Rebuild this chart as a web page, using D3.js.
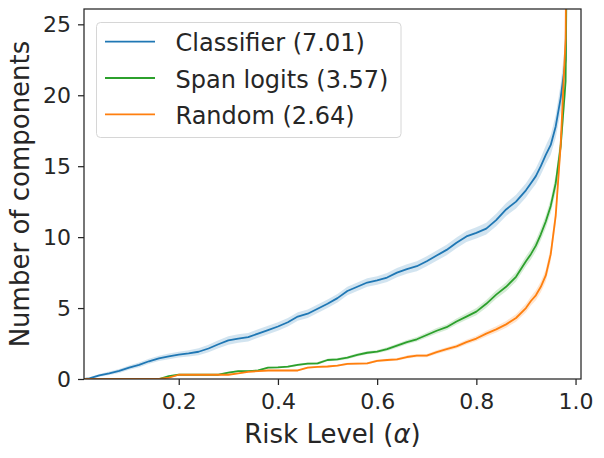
<!DOCTYPE html>
<html>
<head>
<meta charset="utf-8">
<script src="https://cdn.jsdelivr.net/npm/d3@7"></script>
<style>
  body { margin: 0; background: #fff; }
  svg text { font-family: "DejaVu Sans", sans-serif; fill: #262626; }
</style>
</head>
<body>
<div class="svgContainer"></div>
<script>
// risk levels (x) and mean number of components per method
const ALPHA = [0.01, 0.02, 0.04, 0.06, 0.08, 0.10, 0.12, 0.14, 0.16, 0.18,
    0.20, 0.22, 0.24, 0.26, 0.28, 0.30, 0.32, 0.34, 0.36, 0.38,
    0.40, 0.42, 0.44, 0.46, 0.48, 0.50, 0.52, 0.54, 0.56, 0.58,
    0.60, 0.62, 0.64, 0.66, 0.68, 0.70, 0.72, 0.74, 0.76, 0.78,
    0.80, 0.82, 0.84, 0.86, 0.88, 0.90, 0.91, 0.92, 0.93, 0.94,
    0.95, 0.96, 0.97, 0.98, 0.99];

const CLASSIFIER = [0, 0.05, 0.25, 0.4, 0.57, 0.8, 1.0, 1.25, 1.45, 1.6,
    1.72, 1.8, 1.92, 2.15, 2.45, 2.72, 2.85, 2.95, 3.2, 3.45,
    3.7, 4.0, 4.4, 4.6, 4.95, 5.3, 5.7, 6.2, 6.5, 6.8,
    6.95, 7.15, 7.5, 7.75, 7.95, 8.3, 8.7, 9.1, 9.6, 10.05,
    10.3, 10.6, 11.2, 11.95, 12.5, 13.3, 13.8, 14.3, 15.0, 15.8,
    16.5, 17.8, 19.8, 22.5, 60];
const SPAN_LOGITS = [0, 0, 0, 0, 0, 0, 0, 0, 0, 0.2,
    0.3, 0.3, 0.3, 0.3, 0.3, 0.45, 0.56, 0.56, 0.6, 0.8,
    0.82, 0.87, 1.0, 1.08, 1.1, 1.34, 1.38, 1.5, 1.7, 1.85,
    1.93, 2.1, 2.35, 2.6, 2.8, 3.1, 3.4, 3.65, 4.05, 4.4,
    4.75, 5.3, 5.95, 6.5, 7.2, 8.3, 8.8, 9.4, 10.2, 11.1,
    12.2, 13.8, 16.4, 21, 60];
const RANDOM = [0, 0, 0, 0, 0, 0, 0, 0, 0, 0.1,
    0.3, 0.3, 0.3, 0.3, 0.3, 0.3, 0.4, 0.5, 0.56, 0.6,
    0.6, 0.6, 0.6, 0.8, 0.85, 0.88, 0.95, 1.06, 1.08, 1.1,
    1.28, 1.34, 1.38, 1.55, 1.65, 1.65, 1.9, 2.1, 2.3, 2.6,
    2.85, 3.2, 3.5, 3.85, 4.3, 5.0, 5.5, 5.9, 6.5, 7.3,
    8.8, 11.5, 16.5, 24, 70];

// half-width of the shaded confidence band
const CLASSIFIER_CI = [0.05, 0.08, 0.1, 0.12, 0.14, 0.15, 0.17, 0.18, 0.19, 0.2,
    0.2, 0.22, 0.24, 0.26, 0.28, 0.3, 0.3, 0.3, 0.3, 0.3,
    0.3, 0.3, 0.3, 0.3, 0.3, 0.3, 0.3, 0.3, 0.3, 0.3,
    0.3, 0.32, 0.33, 0.34, 0.35, 0.35, 0.36, 0.37, 0.38, 0.39,
    0.4, 0.42, 0.44, 0.46, 0.48, 0.5, 0.52, 0.55, 0.6, 0.65,
    0.7, 0.8, 1.0, 1.5, 3];
const SPAN_LOGITS_CI = [0, 0, 0, 0, 0, 0, 0, 0, 0, 0.05,
    0.06, 0.06, 0.06, 0.06, 0.06, 0.06, 0.06, 0.06, 0.06, 0.06,
    0.07, 0.07, 0.08, 0.08, 0.09, 0.09, 0.1, 0.1, 0.11, 0.11,
    0.12, 0.13, 0.14, 0.15, 0.16, 0.18, 0.19, 0.2, 0.21, 0.23,
    0.25, 0.27, 0.29, 0.31, 0.33, 0.35, 0.37, 0.4, 0.42, 0.45,
    0.5, 0.6, 0.8, 1.0, 3];
const RANDOM_CI = [0, 0, 0, 0, 0, 0, 0, 0, 0, 0.05,
    0.05, 0.05, 0.05, 0.05, 0.05, 0.05, 0.05, 0.05, 0.05, 0.05,
    0.06, 0.06, 0.06, 0.06, 0.07, 0.07, 0.07, 0.08, 0.08, 0.08,
    0.09, 0.09, 0.1, 0.1, 0.11, 0.12, 0.13, 0.14, 0.15, 0.16,
    0.18, 0.2, 0.22, 0.24, 0.26, 0.3, 0.32, 0.35, 0.38, 0.42,
    0.5, 0.6, 0.8, 1.0, 3];

const LABELS = ['Classifier (7.01)', 'Span logits (3.57)', 'Random (2.64)'];
const COLORS = ['#1f77b4', '#2ca02c', '#ff7f0e'];
const X_TICKS = [0.2, 0.4, 0.6, 0.8, 1.0];
const Y_TICKS = [0, 5, 10, 15, 20, 25];

const SERIES = [
    { name: LABELS[0], color: COLORS[0], vals: CLASSIFIER, ci: CLASSIFIER_CI },
    { name: LABELS[1], color: COLORS[1], vals: SPAN_LOGITS, ci: SPAN_LOGITS_CI },
    { name: LABELS[2], color: COLORS[2], vals: RANDOM, ci: RANDOM_CI }
];

const WIDTH = 604;
const HEIGHT = 458;
const LEFT = 84, RIGHT = 581, TOP = 9, BOTTOM = 379;

const svg = d3.select('.svgContainer')
    .append('svg')
    .attr('width', WIDTH)
    .attr('height', HEIGHT);

const x = d3.scaleLinear().domain([0.009, 1.011]).range([LEFT, RIGHT]);
const y = d3.scaleLinear().domain([0, 26.08]).range([BOTTOM, TOP]);

svg.append('clipPath')
    .attr('id', 'plotArea')
    .append('rect')
    .attr('x', LEFT)
    .attr('y', TOP)
    .attr('width', RIGHT - LEFT)
    .attr('height', BOTTOM - TOP);

const plot = svg.append('g').attr('clip-path', 'url(#plotArea)');

// confidence bands, then lines on top (drawn in legend order)
SERIES.forEach(s => {
    const area = d3.area()
        .x((d, i) => x(ALPHA[i]))
        .y0((d, i) => y(d - s.ci[i]))
        .y1((d, i) => y(d + s.ci[i]));
    plot.append('path')
        .datum(s.vals)
        .attr('d', area)
        .attr('fill', s.color)
        .attr('fill-opacity', 0.2)
        .attr('stroke', 'none');
});

SERIES.forEach(s => {
    const line = d3.line()
        .x((d, i) => x(ALPHA[i]))
        .y(d => y(d));
    plot.append('path')
        .datum(s.vals)
        .attr('d', line)
        .attr('fill', 'none')
        .attr('stroke', s.color)
        .attr('stroke-width', 1.8)
        .attr('stroke-linejoin', 'round');
});

// axes
const xAxis = d3.axisBottom(x).tickValues(X_TICKS).tickSize(6).tickPadding(8)
    .tickFormat(d3.format('.1f'));
const yAxis = d3.axisLeft(y).tickValues(Y_TICKS).tickSize(6).tickPadding(7);

const gx = svg.append('g')
    .attr('transform', `translate(0, ${BOTTOM})`)
    .call(xAxis);
const gy = svg.append('g')
    .attr('transform', `translate(${LEFT}, 0)`)
    .call(yAxis);

[gx, gy].forEach(g => {
    g.select('.domain').remove();
    g.selectAll('line').attr('stroke', '#262626').attr('stroke-width', 1.25);
    g.selectAll('text')
        .attr('font-family', '"DejaVu Sans", sans-serif')
        .attr('font-size', 22)
        .attr('fill', '#262626');
});

// frame
svg.append('rect')
    .attr('x', LEFT)
    .attr('y', TOP)
    .attr('width', RIGHT - LEFT)
    .attr('height', BOTTOM - TOP)
    .attr('fill', 'none')
    .attr('stroke', '#262626')
    .attr('stroke-width', 1.25);

// axis labels
const xLabel = svg.append('text')
    .attr('x', (LEFT + RIGHT) / 2)
    .attr('y', 443)
    .attr('text-anchor', 'middle')
    .attr('font-size', 26);
xLabel.append('tspan').text('Risk Level (');
xLabel.append('tspan').attr('font-style', 'italic').text('α');
xLabel.append('tspan').text(')');

svg.append('text')
    .attr('transform', `translate(29, ${(TOP + BOTTOM) / 2}) rotate(-90)`)
    .attr('text-anchor', 'middle')
    .attr('font-size', 26)
    .text('Number of components');

// legend
const legend = svg.append('g').attr('id', 'legend');
legend.append('rect')
    .attr('x', 96.5)
    .attr('y', 22.5)
    .attr('width', 304.5)
    .attr('height', 115)
    .attr('rx', 4)
    .attr('fill', 'white')
    .attr('fill-opacity', 0.8)
    .attr('stroke', '#d6d6d6')
    .attr('stroke-width', 1);

SERIES.forEach((s, i) => {
    const ly = 41.7 + i * 36.3;
    legend.append('line')
        .attr('x1', 105)
        .attr('x2', 155)
        .attr('y1', ly)
        .attr('y2', ly)
        .attr('stroke', s.color)
        .attr('stroke-width', 1.8);
    legend.append('text')
        .attr('x', 175.5)
        .attr('y', ly + 9.5)
        .attr('font-size', 24)
        .text(s.name);
});
</script>
</body>
</html>
